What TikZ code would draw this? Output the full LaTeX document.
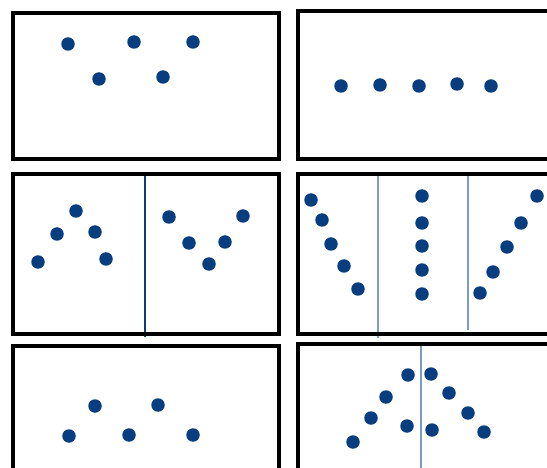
\documentclass[tikz,border=0pt]{standalone}
\definecolor{dotblue}{RGB}{8,62,128}
\definecolor{lineblue}{RGB}{125,155,195}
\tikzset{
  dot/.style={circle,fill=dotblue,inner sep=0pt,minimum size=13.5pt},
  panel/.style={draw=black,line width=3.2pt},
  thinsplit/.style={draw=lineblue,line width=1.2pt},
  thicksplit/.style={draw=dotblue,line width=2.8pt}
}
\begin{document}
\begin{tikzpicture}[x=1pt,y=-1pt]
\useasboundingbox (0,0) rectangle (547,468);
\clip (0,0) rectangle (547,468);
\fill[white] (0,0) rectangle (547,468);

\draw[panel] (13,13) rectangle (279,159);
\foreach \n/\x/\y in {1/68/44,2/99/79,3/134/42,4/163/77,5/193/42}
  \node[dot] (a\n) at (\x,\y) {};

\draw[panel] (298,11) rectangle (570,159);
\foreach \n/\x/\y in {1/341/86,2/380/85,3/419/86,4/457/84,5/491/86}
  \node[dot] (b\n) at (\x,\y) {};

\draw[thicksplit] (145,174) -- (145,337);
\draw[panel] (13,174) rectangle (279,334);
\foreach \n/\x/\y in {1/38/262,2/57/234,3/76/211,4/95/232,5/106/259}
  \node[dot] (cl\n) at (\x,\y) {};
\foreach \n/\x/\y in {1/169/217,2/189/243,3/209/264,4/225/242,5/243/216}
  \node[dot] (cr\n) at (\x,\y) {};

\draw[thinsplit] (378,174) -- (378,338);
\draw[thinsplit] (468,174) -- (468,330);
\draw[panel] (298,174) rectangle (570,334);
\foreach \n/\x/\y in {1/311/200,2/322/220,3/331/244,4/344/266,5/358/289}
  \node[dot] (dl\n) at (\x,\y) {};
\foreach \n/\y in {1/196,2/223,3/246,4/270,5/294}
  \node[dot] (dm\n) at (422,\y) {};
\foreach \n/\x/\y in {1/480/293,2/493/272,3/507/247,4/521/223,5/537/196}
  \node[dot] (dr\n) at (\x,\y) {};

\draw[panel] (13,346) rectangle (279,490);
\foreach \n/\x/\y in {1/69/436,2/95/406,3/129/435,4/158/405,5/193/435}
  \node[dot] (e\n) at (\x,\y) {};

\draw[thinsplit] (421,344) -- (421,490);
\draw[panel] (298,344) rectangle (570,490);
\foreach \n/\x/\y in {1/353/442,2/371/418,3/386/397,4/408/375,5/431/374,6/449/393,7/468/413,8/484/432,9/407/426,10/432/430}
  \node[dot] (f\n) at (\x,\y) {};
\end{tikzpicture}
\end{document}
